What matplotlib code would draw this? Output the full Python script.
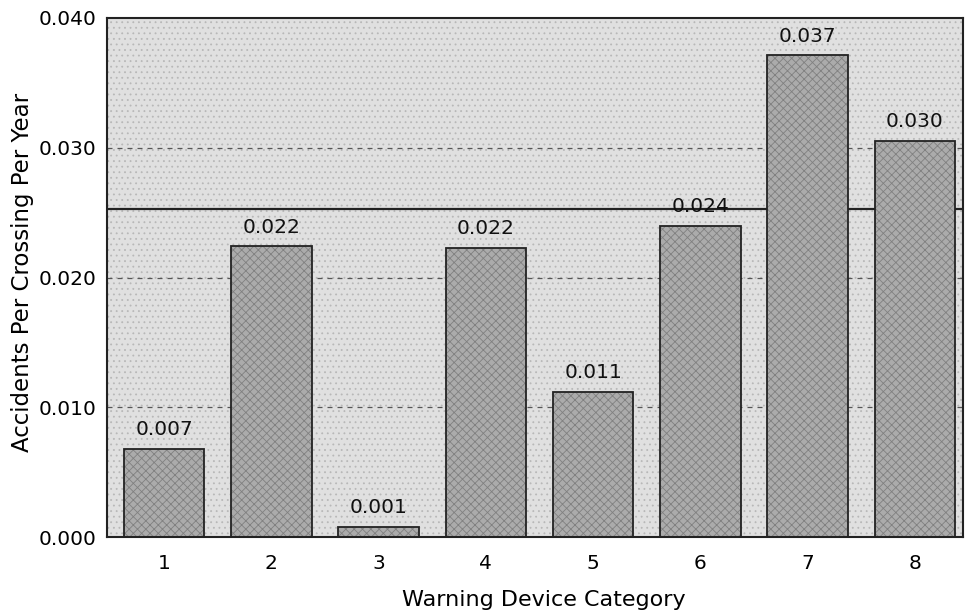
import numpy as np
import matplotlib
matplotlib.use("Agg")
from matplotlib import pyplot as plt
from matplotlib.patches import Rectangle

categories = ["1", "2", "3", "4", "5", "6", "7", "8"]
rates = [0.0068, 0.0224, 0.0008, 0.0223, 0.0112, 0.0240, 0.0371, 0.0305]
rate_labels = ["0.007", "0.022", "0.001", "0.022", "0.011", "0.024", "0.037", "0.030"]
ref_level = 0.0253
yticks = [0.000, 0.010, 0.020, 0.030, 0.040]
grid_levels = [0.010, 0.020, 0.030]

def main():
    plt.rcParams['font.family'] = ['DejaVu Sans']
    plt.rcParams['hatch.linewidth'] = 0.6

    fig = plt.figure(figsize=(9.66, 6.14), dpi=100)
    ax = fig.add_axes([0.111, 0.125, 0.886, 0.846])

    x = np.arange(1, len(categories) + 1)

    # dotted-looking background
    ax.set_facecolor('#e0e0e0')
    ax.add_patch(Rectangle((0, 0), 1, 1, transform=ax.transAxes,
                           facecolor='none', edgecolor='#b8b8b8',
                           hatch='...', lw=0, zorder=0))

    for g in grid_levels:
        ax.axhline(g, color='#555555', lw=0.9, ls=(0, (4, 4)), zorder=1)
    ax.axhline(ref_level, color='#222222', lw=1.6, zorder=1)

    # fill with hatch, then black outline on top
    ax.bar(x, rates, width=0.75, color='#ababab', edgecolor='#808080',
           hatch='xxxx', lw=0, zorder=2)
    bars = ax.bar(x, rates, width=0.75, fill=False, edgecolor='#222222',
                  lw=1.3, zorder=3)
    ax.bar_label(bars, labels=rate_labels, padding=7, fontsize=14.5,
                 color='#111111')

    ax.set_xlim(0.47, 8.45)
    ax.set_ylim(0, 0.040)
    ax.set_xticks(x)
    ax.set_xticklabels(categories)
    ax.set_yticks(yticks)
    ax.set_yticklabels(['{:.3f}'.format(v) for v in yticks])
    ax.tick_params(axis='x', length=0, pad=12, labelsize=14.5)
    ax.tick_params(axis='y', length=0, pad=8, labelsize=14.5)

    for s in ax.spines.values():
        s.set_linewidth(1.5)
        s.set_color('#222222')

    ax.set_xlabel('Warning Device Category', fontsize=16)
    ax.xaxis.set_label_coords(0.51, -0.102)
    ax.set_ylabel('Accidents Per Crossing Per Year', fontsize=16.5)
    ax.yaxis.set_label_coords(-0.085, 0.51)

    fig.savefig('out.png', dpi=100)

if __name__ == "__main__":
    main()
